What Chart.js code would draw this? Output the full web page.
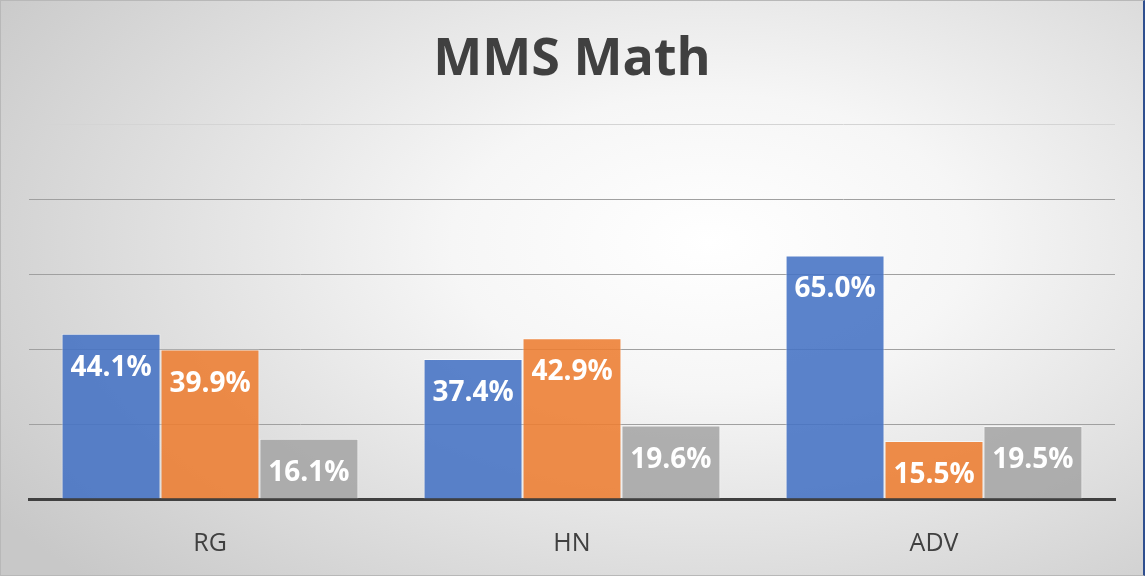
<!DOCTYPE html>
<html>
<head>
<meta charset="utf-8">
<script src="https://cdn.jsdelivr.net/npm/chart.js@4"></script>
<style>
  html, body { margin: 0; padding: 0; }
  #wrap {
    position: relative;
    width: 1145px;
    height: 576px;
    background: radial-gradient(ellipse 75% 85% at 62% 42%, #ffffff 0%, #f6f6f6 30%, #dfdfdf 65%, #c8c8c8 100%);
  }
  #frame {
    position: absolute;
    inset: 0;
    box-sizing: border-box;
    border: 1px solid #b8b8b8;
    border-right: 2px solid #2f4f8f;
    pointer-events: none;
  }
</style>
</head>
<body>
<div id="wrap"><canvas id="chart"></canvas><div id="frame"></div></div>
<script>
// categories and series (percent)
const categories = ["RG", "HN", "ADV"];
const series1 = [44.1, 37.4, 65.0];
const series2 = [39.9, 42.9, 15.5];
const series3 = [16.1, 19.6, 19.5];

const TEXT_COLOR = "#404040";

// ---- draws the value label just inside the top of each bar ----
const barLabels = {
    id: "barLabels",
    afterDatasetsDraw(chart) {
        const ctx = chart.ctx;
        ctx.save();
        ctx.fillStyle = "#ffffff";
        ctx.font = "bold 28px 'Open Sans'";
        ctx.textAlign = "center";
        ctx.textBaseline = "middle";
        chart.data.datasets.forEach((ds, i) => {
            chart.getDatasetMeta(i).data.forEach((bar, j) => {
                ctx.fillText(ds.data[j].toFixed(1) + "%", bar.x, bar.y + 34);
            });
        });
        ctx.restore();
    }
};

const ctx = document.getElementById("chart").getContext("2d");
new Chart(ctx, {
    type: "bar",
    data: {
        labels: categories,
        datasets: [
            { data: series1, backgroundColor: "rgba(68,114,196,0.88)" },
            { data: series2, backgroundColor: "rgba(237,125,49,0.88)" },
            { data: series3, backgroundColor: "rgba(165,165,165,0.88)" }
        ].map((d) => Object.assign(d, {
            borderColor: "rgba(255,255,255,0.55)",
            borderWidth: 1,
            categoryPercentage: 0.82,
            barPercentage: 1.0
        }))
    },
    options: {
        responsive: true,
        maintainAspectRatio: false,
        animation: false,
        layout: { padding: { left: 29, right: 30, top: 0, bottom: 0 } },
        plugins: {
            legend: { display: false },
            tooltip: { enabled: false },
            title: {
                display: true,
                text: "MMS Math",
                color: TEXT_COLOR,
                font: { family: "'Open Sans'", size: 52, weight: "bold" },
                padding: { top: 29, bottom: 33 }
            }
        },
        scales: {
            x: {
                grid: { display: false, drawTicks: false },
                border: { display: true, color: "#404040", width: 3 },
                ticks: {
                    color: TEXT_COLOR,
                    padding: 30,
                    font: { family: "'Open Sans'", size: 25 }
                },
                afterFit: (s) => { s.height = 77; }
            },
            y: {
                min: 0,
                max: 100,
                ticks: { display: false, stepSize: 20 },
                border: { display: false },
                grid: {
                    drawTicks: false,
                    color: (c) => c.tick && c.tick.value === 100 ? "#d4d4d4" : "#a0a0a0",
                    lineWidth: 1
                }
            }
        }
    },
    plugins: [barLabels]
});
</script>
</body>
</html>
